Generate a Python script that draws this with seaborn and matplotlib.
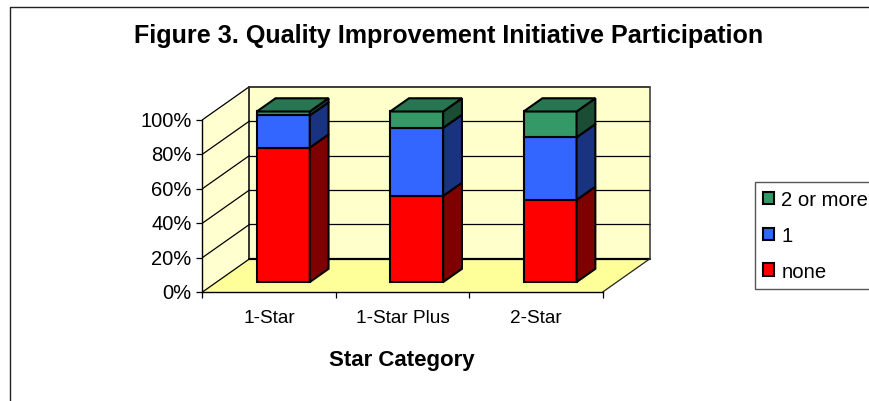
import pandas as pd
import matplotlib
matplotlib.use('Agg')
import matplotlib.pyplot as plt
import seaborn as sns
from matplotlib.lines import Line2D
from matplotlib.patches import Polygon
from matplotlib.transforms import ScaledTranslation

categories = ['1-Star', '1-Star Plus', '2-Star']
none_pct = [78, 50, 47.7]
one_pct = [18.7, 39.5, 36.3]
two_plus_pct = [2.3, 9.5, 15]
y_ticks = [0, 20, 40, 60, 80, 100]

series_names = ['none', '1', '2 or more']
front_colors = ['#FF0000', '#3366FF', '#339966']
side_colors = ['#7F0000', '#1A3380', '#1A4D33']
top_color = '#287552'

# how far the back wall sits from the front plane, in data units
DEPTH_X = 0.352
DEPTH_Y = 19.2
BAR_FRONT = 0.3
BAR_BACK = 0.7
BAR_WIDTH = 0.397

sns.set_style('white')
plt.rcParams['font.family'] = ['Liberation Sans', 'DejaVu Sans']
plt.rcParams['text.color'] = 'black'

W, H = 870, 402
fig = plt.figure(figsize=(W / 100, H / 100), dpi=100)
ax = fig.add_axes([202.5 / W, (H - 293) / H, 400.2 / W, 172.3 / H])
ax.set_facecolor('none')

df = pd.DataFrame({'category': categories, 'none': none_pct, '1': one_pct, '2 or more': two_plus_pct})

x0, x1 = -0.5, 2.5
# walls and floor
ax.add_patch(Polygon([(x0, 0), (x0, 100), (x0 + DEPTH_X, 100 + DEPTH_Y), (x0 + DEPTH_X, DEPTH_Y)],
                     fc='#FFFFD0', ec='none', clip_on=False, zorder=0))
ax.add_patch(Polygon([(x0 + DEPTH_X, DEPTH_Y), (x0 + DEPTH_X, 100 + DEPTH_Y), (x1 + DEPTH_X, 100 + DEPTH_Y), (x1 + DEPTH_X, DEPTH_Y)],
                     fc='#FFFFCC', ec='none', clip_on=False, zorder=0))
ax.add_patch(Polygon([(x0, 0), (x1, 0), (x1 + DEPTH_X, DEPTH_Y), (x0 + DEPTH_X, DEPTH_Y)],
                     fc='#FFFF99', ec='none', clip_on=False, zorder=0))

# grid lines, side wall then back wall
for t in y_ticks:
    c = '#666666' if t == 100 else 'black'
    lw = 1.3 if t == 100 else 0.9
    ax.plot([x0, x0 + DEPTH_X], [t, t + DEPTH_Y], color='black', lw=0.9, clip_on=False, zorder=1)
    if t > 0:
        ax.plot([x0 + DEPTH_X, x1 + DEPTH_X], [t + DEPTH_Y, t + DEPTH_Y], color=c, lw=lw, clip_on=False, zorder=1)
ax.plot([x0 + DEPTH_X, x1 + DEPTH_X], [DEPTH_Y, DEPTH_Y], color='black', lw=1.6, clip_on=False, zorder=1)
ax.plot([x0 + DEPTH_X, x0 + DEPTH_X], [DEPTH_Y, 100 + DEPTH_Y], color='black', lw=1.1, clip_on=False, zorder=1)
ax.plot([x0 + DEPTH_X, x1 + DEPTH_X, x1 + DEPTH_X], [100 + DEPTH_Y, 100 + DEPTH_Y, DEPTH_Y], color='#333333', lw=1.1, clip_on=False, zorder=1)
ax.plot([x1, x1 + DEPTH_X], [0, DEPTH_Y], color='#222222', lw=0.9, clip_on=False, zorder=1)

# stacked bars, front faces come from seaborn
lift = DEPTH_Y * BAR_FRONT
shift = DEPTH_X * BAR_FRONT
back_dx = DEPTH_X * (BAR_BACK - BAR_FRONT)
back_dy = DEPTH_Y * (BAR_BACK - BAR_FRONT)
bottoms = [lift] * len(categories)
for name, front, side in zip(series_names, front_colors, side_colors):
    n_before = len(ax.patches)
    sns.barplot(data=df, x='category', y=name, order=categories, ax=ax, color=front, saturation=1,
                width=BAR_WIDTH, bottom=bottoms, label=name, edgecolor='black', linewidth=1.5, zorder=3)
    for p in ax.patches[n_before:]:
        p.set_x(p.get_x() + shift)
        p.set_clip_on(False)
        left, low, w, h = p.get_x(), p.get_y(), p.get_width(), p.get_height()
        right = left + w
        ax.add_patch(Polygon([(right, low), (right + back_dx, low + back_dy), (right + back_dx, low + h + back_dy), (right, low + h)],
                             fc=side, ec='black', lw=1.5, clip_on=False, zorder=3))
        if name == series_names[-1]:
            top = low + h
            ax.add_patch(Polygon([(left, top), (right, top), (right + back_dx, top + back_dy), (left + back_dx, top + back_dy)],
                                 fc=top_color, ec='black', lw=1.5, clip_on=False, zorder=3))
    bottoms = [b + v for b, v in zip(bottoms, df[name])]

ax.set_xlim(x0, x1)
ax.set_ylim(0, 100)
sns.despine(ax=ax, top=True, right=True)
for s in ['left', 'bottom']:
    ax.spines[s].set_color('black')
    ax.spines[s].set_linewidth(1.0)
    ax.spines[s].set_zorder(2)

ax.set_yticks(y_ticks)
ax.set_yticklabels([f'{t}%' for t in y_ticks], fontsize=14.5)
ax.tick_params(axis='y', left=True, length=4.3, width=0.9, pad=3.5, colors='black')
for lab in ax.get_yticklabels():
    lab.set_transform(lab.get_transform() + ScaledTranslation(0, 1.3 / 100, fig.dpi_scale_trans))
# ticks between categories, labels centred under them
ax.set_xticks([-0.5, 0.5, 1.5, 2.5])
ax.set_xticklabels([])
ax.set_xticks([0, 1, 2], categories, minor=True, fontsize=13.7)
ax.tick_params(axis='x', which='major', bottom=True, length=4.3, width=0.9, colors='black')
ax.tick_params(axis='x', which='minor', bottom=False, pad=10, colors='black')
ax.set_xlabel('')
ax.set_ylabel('')

fig.text(449 / W, 1 - 36 / H, 'Figure 3. Quality Improvement Initiative Participation',
         ha='center', va='center', fontsize=18.1, fontweight='bold')
fig.text(402 / W, 1 - 361 / H, 'Star Category', ha='center', va='center', fontsize=16, fontweight='bold')

# chart border, only top and left fall inside the crop
fig.add_artist(Line2D([10 / W, 10 / W, 1], [0, 1 - 7.5 / H, 1 - 7.5 / H], color='#222222', lw=1.0))

handles, labels = ax.get_legend_handles_labels()
leg = ax.legend(handles[::-1], labels[::-1], loc='upper left', bbox_to_anchor=(755 / W, 1 - 183 / H),
                bbox_transform=fig.transFigure, fontsize=14.6, frameon=True, fancybox=False,
                edgecolor='#555555', framealpha=1, handlelength=0.55, handleheight=0.55,
                handletextpad=0.35, borderpad=0.4, labelspacing=0.83, borderaxespad=0)
leg.get_frame().set_linewidth(1.0)
leg.set_clip_on(False)

fig.savefig('out.png', dpi=100)
